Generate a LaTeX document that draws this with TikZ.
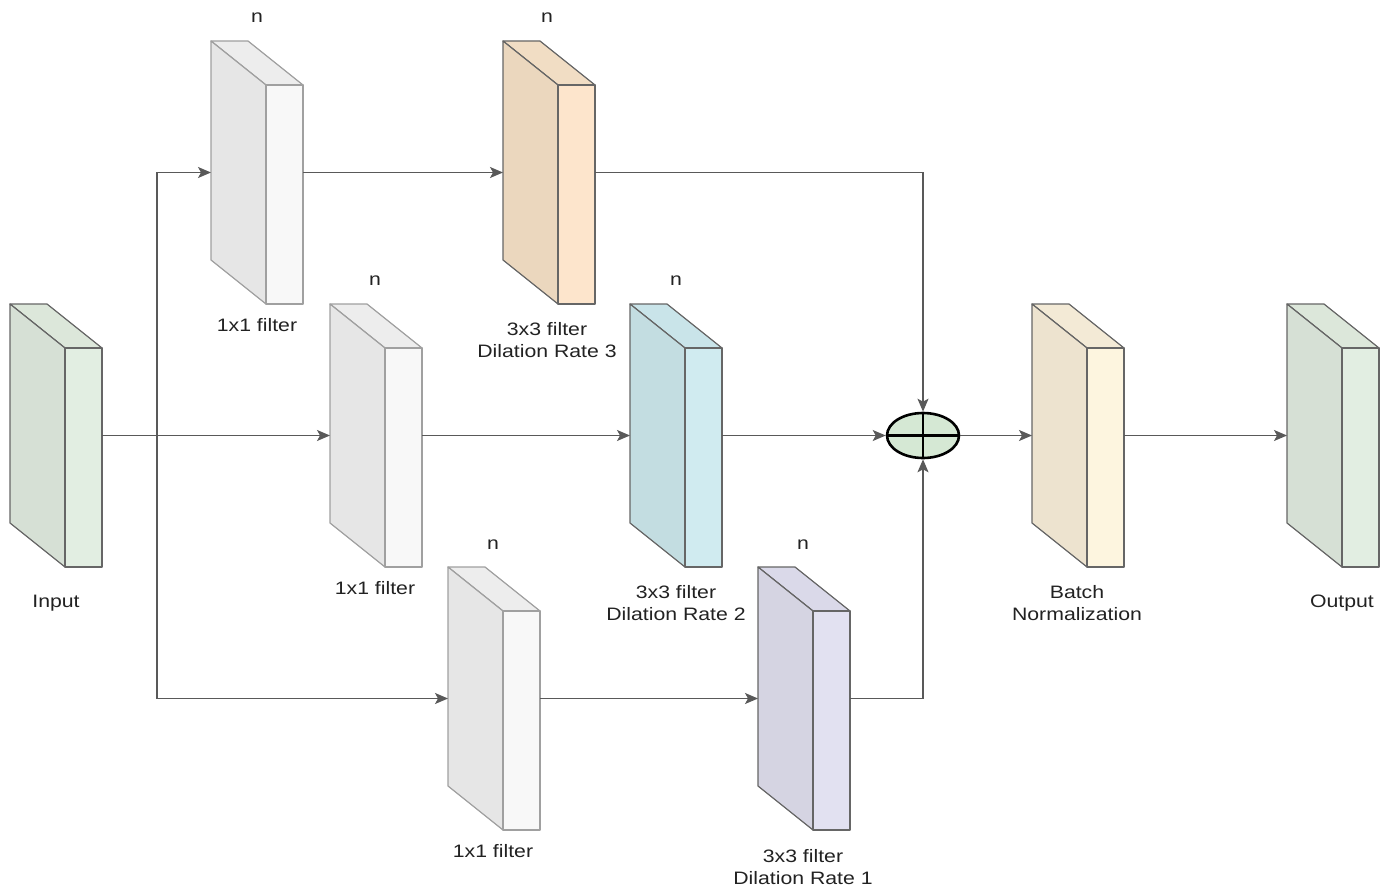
\documentclass[tikz,border=0pt]{standalone}
\usepackage{fontspec}
\setmainfont{Liberation Sans}
\newfontfamily\lab[FakeStretch=1.18]{Liberation Sans}
\usetikzlibrary{arrows.meta,shapes.geometric}
\definecolor{ln}{HTML}{595959}
\definecolor{bd}{HTML}{666666}
\definecolor{gbd}{HTML}{A0A0A0}
\definecolor{txt}{HTML}{222222}
% green
\definecolor{gS}{HTML}{D6E0D5}\definecolor{gF}{HTML}{E2EEE2}\definecolor{gT}{HTML}{DCE7DA}
% gray
\definecolor{wS}{HTML}{E6E6E6}\definecolor{wF}{HTML}{F8F8F8}\definecolor{wT}{HTML}{EDEDED}
% orange
\definecolor{oS}{HTML}{EBD7BE}\definecolor{oF}{HTML}{FDE5CC}\definecolor{oT}{HTML}{F1DDC4}
% blue
\definecolor{bS}{HTML}{C3DDE1}\definecolor{bF}{HTML}{D0EBF0}\definecolor{bT}{HTML}{C9E4E9}
% purple
\definecolor{pS}{HTML}{D5D4E2}\definecolor{pF}{HTML}{E2E1F1}\definecolor{pT}{HTML}{DAD9E9}
% beige
\definecolor{yS}{HTML}{EDE3CF}\definecolor{yF}{HTML}{FDF5DF}\definecolor{yT}{HTML}{F3EAD6}
\definecolor{sumF}{HTML}{D5E8D4}
\newcommand{\blk}[7]{%
  \draw[#7, fill=#6, line width=1.2pt, line join=round] (#2,#3) -- ++(37,0) -- ++(55,44) -- ++(-37,0) -- cycle;
  \draw[#7, fill=#4, line width=1.2pt, line join=round] (#2,#3) -- ++(55,44) -- ++(0,219) -- ++(-55,-44) -- cycle;
  \draw[#7, fill=#5, line width=1.2pt, line join=round] (#2+55,#3+44) rectangle ++(37,219);
  \node[minimum width=92pt, minimum height=263pt, inner sep=0pt, outer sep=0pt, draw=none, anchor=north west] (#1) at (#2,#3) {};
}
\tikzset{
  arr/.style={draw=ln, line width=1.3pt, -{Stealth[length=13pt,width=11pt,inset=3pt]}},
  lbl/.style={font=\lab\fontsize{18pt}{22pt}\selectfont, text=txt, align=center, inner sep=0pt},
}
\begin{document}
\begin{tikzpicture}[x=1pt,y=-1pt]
\useasboundingbox (0,0) rectangle (1388,888);
\fill[white] (0,0) rectangle (1388,888);
\blk{in}{10}{304}{gS}{gF}{gT}{bd}
\blk{a1}{211}{41}{wS}{wF}{wT}{gbd}
\blk{a3}{503}{41}{oS}{oF}{oT}{bd}
\blk{b1}{330}{304}{wS}{wF}{wT}{gbd}
\blk{b3}{630}{304}{bS}{bF}{bT}{bd}
\blk{c1}{448}{567}{wS}{wF}{wT}{gbd}
\blk{c3}{758}{567}{pS}{pF}{pT}{bd}
\blk{bn}{1032}{304}{yS}{yF}{yT}{bd}
\blk{out}{1287}{304}{gS}{gF}{gT}{bd}
\node[ellipse, draw=black, line width=2.6pt, fill=sumF, minimum width=72pt, minimum height=45pt, inner sep=0pt] (sum) at (923,435.5) {};
\draw[black, line width=2.6pt] (sum.north) -- (sum.south) (sum.west) -- (sum.east);
\coordinate (j) at (157,435.5);
% connectors
\draw[arr] (in.east) -- (b1.west);
\draw[arr] (j) |- (a1.west);
\draw[arr] (j) |- (c1.west);
\draw[draw=ln, line width=1.4pt] (in.east) -- (j);
\draw[arr] (a1.east) -- (a3.west);
\draw[arr] (b1.east) -- (b3.west);
\draw[arr] (c1.east) -- (c3.west);
\draw[arr] (a3.east) -| (sum.north);
\draw[arr] (b3.east) -- (sum.west);
\draw[arr] (c3.east) -| (sum.south);
\draw[arr] (sum.east) -- (bn.west);
\draw[arr] (bn.east) -- (out.west);
% labels
\node[lbl] (na1) at (257,18) {n};
\node[lbl] (na3) at (547,18) {n};
\node[lbl] (nb1) at (375,281) {n};
\node[lbl] (nb3) at (676,281) {n};
\node[lbl] (nc1) at (493,545) {n};
\node[lbl] (nc3) at (803,545) {n};
\node[lbl] (la1) at (257,325) {1x1 filter};
\node[lbl] (lb1) at (375,588) {1x1 filter};
\node[lbl] (lc1) at (493,851) {1x1 filter};
\node[lbl] (la3) at (547,340) {3x3 filter\\Dilation Rate 3};
\node[lbl] (lb3) at (676,603) {3x3 filter\\Dilation Rate 2};
\node[lbl] (lc3) at (803,867) {3x3 filter\\Dilation Rate 1};
\node[lbl] (lin) at (56,603) {Input};
\node[lbl] (lbn) at (1077,603) {Batch\\Normalization};
\node[lbl] (lout) at (1342,603) {Output};
\end{tikzpicture}
\end{document}
